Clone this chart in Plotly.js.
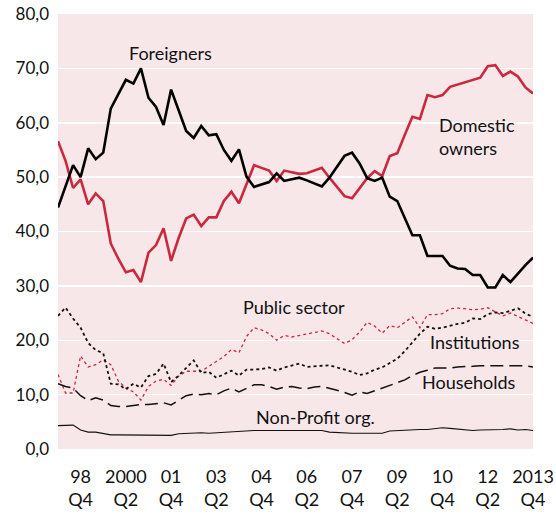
<!DOCTYPE html>
<html>
<head>
<meta charset="utf-8">
<script src="https://cdn.plot.ly/plotly-3.0.1.min.js"></script>
<style>html,body{margin:0;padding:0;background:#fff;}#chart{width:556px;height:515px;}</style>
</head>
<body>
<div id="chart"></div>
<script>
// Quarters 1998Q1 .. 2013Q4 (64 observations)
const quarters = [
 "1998Q1","1998Q2","1998Q3","1998Q4","1999Q1","1999Q2","1999Q3","1999Q4",
 "2000Q1","2000Q2","2000Q3","2000Q4","2001Q1","2001Q2","2001Q3","2001Q4",
 "2002Q1","2002Q2","2002Q3","2002Q4","2003Q1","2003Q2","2003Q3","2003Q4",
 "2004Q1","2004Q2","2004Q3","2004Q4","2005Q1","2005Q2","2005Q3","2005Q4",
 "2006Q1","2006Q2","2006Q3","2006Q4","2007Q1","2007Q2","2007Q3","2007Q4",
 "2008Q1","2008Q2","2008Q3","2008Q4","2009Q1","2009Q2","2009Q3","2009Q4",
 "2010Q1","2010Q2","2010Q3","2010Q4","2011Q1","2011Q2","2011Q3","2011Q4",
 "2012Q1","2012Q2","2012Q3","2012Q4","2013Q1","2013Q2","2013Q3","2013Q4"
];

const foreigners = [
 44.4,48.3,52.2,50.0,55.3,53.3,54.5,62.6,65.3,67.9,67.2,70.0,64.6,62.9,59.6,66.1,
 62.3,58.5,57.2,59.4,57.7,57.9,55.0,53.0,55.1,50.1,48.2,48.6,49.1,50.7,49.3,49.6,
 49.9,49.4,48.8,48.3,49.9,52.0,53.9,54.5,52.5,49.8,49.3,49.9,46.4,45.6,42.5,39.3,
 39.3,35.5,35.5,35.5,33.7,33.2,33.1,32.0,32.0,29.7,29.7,32.0,30.7,32.3,33.8,35.2
];

const domestic = [
 56.6,53.0,48.0,49.6,45.0,47.0,45.6,37.8,35.0,32.5,32.9,30.7,36.1,37.5,40.6,34.6,
 38.8,42.4,43.1,41.0,42.6,42.6,45.6,47.3,45.2,48.7,52.2,51.7,51.2,49.3,51.2,50.9,
 50.6,50.7,51.2,51.7,49.9,48.2,46.5,46.1,48.0,49.8,51.1,50.2,53.9,54.4,57.8,61.1,
 60.7,65.1,64.7,65.1,66.6,67.0,67.5,67.9,68.3,70.4,70.6,68.6,69.4,68.5,66.5,65.4
];

const publicSector = [
 13.7,10.3,10.3,17.1,15.1,15.5,16.4,15.5,12.5,11.2,10.5,9.0,11.5,12.5,12.8,11.7,
 13.4,14.3,14.3,14.3,15.2,16.1,17.0,18.3,17.7,20.7,22.3,21.9,21.2,20.0,20.9,20.6,
 20.9,21.2,21.5,21.7,21.2,20.3,19.4,20.1,21.5,23.3,22.6,21.3,22.7,22.3,23.3,24.3,
 22.3,24.7,24.7,24.9,25.8,25.9,25.8,25.6,25.7,26.0,25.2,24.5,25.0,24.4,23.8,23.1
];

const institutions = [
 24.5,26.0,24.0,22.3,19.5,18.2,17.6,12.0,11.9,11.0,12.0,11.3,13.4,13.8,15.7,12.3,
 13.5,14.9,16.3,14.0,14.2,13.1,13.8,14.4,13.5,14.6,14.6,14.7,15.0,14.4,15.0,15.4,
 15.7,15.1,15.2,15.4,15.4,15.0,14.6,14.2,13.6,13.9,14.6,15.0,15.8,16.6,18.0,19.6,
 21.2,22.5,22.1,22.3,22.7,23.0,23.2,24.0,23.9,24.8,25.1,25.0,25.4,25.9,24.9,24.3
];

const households = [
 12.0,11.5,11.2,9.8,8.9,9.4,9.0,8.0,7.8,7.8,8.0,8.2,8.2,8.3,8.5,8.1,
 8.9,9.8,10.1,10.0,10.2,10.0,10.7,11.2,10.5,11.1,11.8,11.8,11.5,11.0,11.4,11.5,
 11.2,11.1,11.4,11.5,11.2,10.8,10.4,9.9,10.5,10.2,10.7,11.2,11.7,12.1,12.7,13.5,
 14.1,14.5,14.9,14.9,14.9,15.1,15.1,15.2,15.3,15.3,15.3,15.2,15.2,15.3,15.3,15.1
];

const nonProfit = [
 4.3,4.3,4.4,3.5,3.1,3.1,2.9,2.6,2.6,2.6,2.6,2.6,2.6,2.6,2.6,2.5,
 2.8,2.9,3.0,3.0,2.9,3.0,3.1,3.2,3.3,3.4,3.4,3.4,3.4,3.4,3.4,3.4,
 3.4,3.4,3.4,3.4,3.1,3.0,2.9,2.9,2.9,2.9,2.9,2.9,3.3,3.4,3.5,3.5,
 3.6,3.6,3.8,3.9,3.8,3.7,3.5,3.4,3.5,3.5,3.6,3.6,3.7,3.5,3.6,3.4
];

const tickQuarters = ["1998Q4","2000Q2","2001Q4","2003Q2","2004Q4","2006Q2","2007Q4","2009Q2","2010Q4","2012Q2","2013Q4"];
const tickLabels = ["98<br>Q4","2000<br>Q2","01<br>Q4","03<br>Q2","04<br>Q4","06<br>Q2","07<br>Q4","09<br>Q2","10<br>Q4","12<br>Q2","2013<br>Q4"];

const seriesLabels = ["Foreigners","Domestic<br>owners","Public sector","Institutions","Households","Non-Profit org."];

const xIdx = quarters.map((q,i)=>i);
const tickIdx = tickQuarters.map(q=>quarters.indexOf(q));

const RED = '#C9293F';
const FONT = 'Lato, "Open Sans", sans-serif';

const traces = [
 {x:xIdx, y:publicSector, mode:'lines', line:{color:RED, width:1.3, dash:'dot'}},
 {x:xIdx, y:institutions, mode:'lines', line:{color:'#111', width:1.8, dash:'dot'}},
 {x:xIdx, y:households, mode:'lines', line:{color:'#111', width:1.5, dash:'13px,6px'}},
 {x:xIdx, y:nonProfit, mode:'lines', line:{color:'#111', width:1.1}},
 {x:xIdx, y:domestic, mode:'lines', line:{color:RED, width:2.6}},
 {x:xIdx, y:foreigners, mode:'lines', line:{color:'#000', width:2.6}}
];

const L=58, R=533, T=14, B=449;
function px(x){return (x-L)/(R-L);}
function py(y){return (B-y)/(B-T);}

const annFont = {family:FONT, size:18, color:'#111'};
const annotations = [
 {text:seriesLabels[0], x:px(170), y:py(53), xanchor:'center', yanchor:'middle'},
 {text:seriesLabels[1], x:px(437), y:py(136), xanchor:'left', yanchor:'middle', align:'left'},
 {text:seriesLabels[2], x:px(294), y:py(307), xanchor:'center', yanchor:'middle'},
 {text:seriesLabels[3], x:px(475), y:py(342), xanchor:'center', yanchor:'middle'},
 {text:seriesLabels[4], x:px(469), y:py(382), xanchor:'center', yanchor:'middle'},
 {text:seriesLabels[5], x:px(315), y:py(417), xanchor:'center', yanchor:'middle'}
].map(a=>Object.assign({xref:'paper', yref:'paper', showarrow:false, font:annFont}, a));

const layout = {
 width:556, height:515,
 margin:{l:L, r:556-R, t:T, b:515-B, pad:0},
 paper_bgcolor:'#ffffff',
 plot_bgcolor:'#F7E7E9',
 showlegend:false,
 separators:', ',
 font:{family:FONT, size:16, color:'#111'},
 xaxis:{
  range:[0,63], tickmode:'array', tickvals:tickIdx, ticktext:tickLabels,
  showgrid:false, zeroline:false, showline:false, ticks:'',
  ticklabelstandoff:15, tickfont:{family:FONT, size:18, color:'#111'}
 },
 yaxis:{
  range:[0,80], dtick:10, tickformat:'.1f',
  showgrid:true, gridcolor:'#ffffff', gridwidth:1.5,
  zeroline:false, showline:false, ticks:'',
  ticklabelstandoff:8, tickfont:{family:FONT, size:17, color:'#111'}
 },
 annotations:annotations
};

Plotly.newPlot('chart', traces, layout, {staticPlot:true, displayModeBar:false});
</script>
</body>
</html>
